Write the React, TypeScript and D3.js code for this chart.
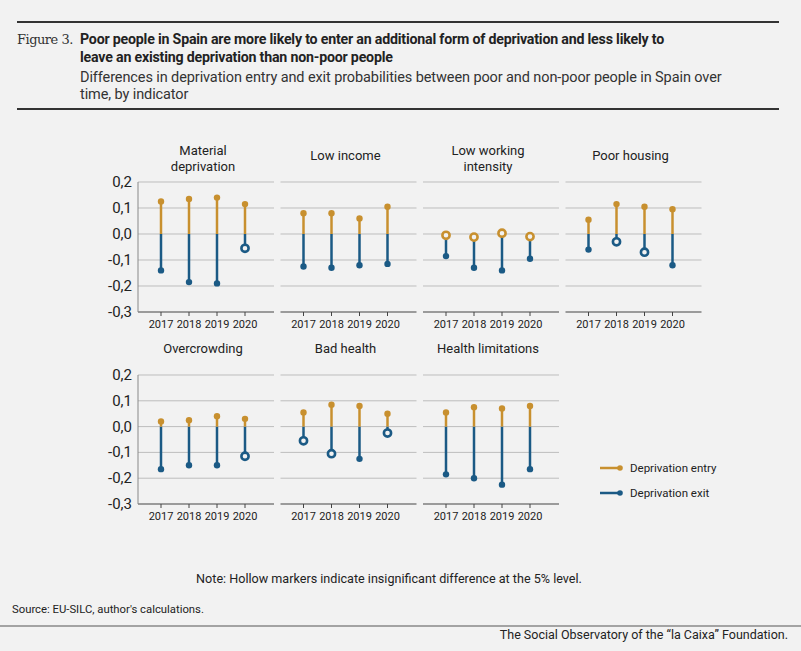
import React from "react";
import * as d3 from "d3";

const years = ["2017", "2018", "2019", "2020"];
const panelTitles = [
  ["Material", "deprivation"],
  ["Low income"],
  ["Low working", "intensity"],
  ["Poor housing"],
  ["Overcrowding"],
  ["Bad health"],
  ["Health limitations"],
];
const entryValues = [
  [0.125, 0.135, 0.14, 0.115],
  [0.08, 0.08, 0.06, 0.105],
  [-0.005, -0.012, 0.003, -0.01],
  [0.055, 0.115, 0.105, 0.095],
  [0.02, 0.025, 0.04, 0.03],
  [0.055, 0.085, 0.08, 0.05],
  [0.055, 0.075, 0.07, 0.08],
];
const exitValues = [
  [-0.14, -0.185, -0.19, -0.055],
  [-0.125, -0.13, -0.12, -0.115],
  [-0.085, -0.13, -0.14, -0.095],
  [-0.06, -0.03, -0.07, -0.12],
  [-0.165, -0.15, -0.15, -0.115],
  [-0.055, -0.105, -0.125, -0.025],
  [-0.185, -0.2, -0.225, -0.165],
];
const entryHollow = [
  [false, false, false, false],
  [false, false, false, false],
  [true, true, true, true],
  [false, false, false, false],
  [false, false, false, false],
  [false, false, false, false],
  [false, false, false, false],
];
const exitHollow = [
  [false, false, false, true],
  [false, false, false, false],
  [false, false, false, false],
  [false, true, true, false],
  [false, false, false, true],
  [true, true, false, true],
  [false, false, false, false],
];
const yTicks = [0.2, 0.1, 0, -0.1, -0.2, -0.3];

const ORANGE = "#c8902f";
const BLUE = "#1b5a85";
const FONT = "Roboto, 'Noto Sans', sans-serif";

const Panel = ({ idx, x0, yTop, yBot }: { idx: number; x0: number; yTop: number; yBot: number }) => {
  const w = 136;
  const y = d3.scaleLinear([-0.3, 0.2], [yBot, yTop]);
  const x = d3.scalePoint(years, [x0 + 23, x0 + 107]);
  const title = panelTitles[idx];
  const first = idx % 4 === 0;
  return (
    <g>
      {title.map((t, i) => (
        <text key={i} x={x0 + 65} y={yTop - (title.length === 2 ? 27 : 22) + i * 16}
          textAnchor="middle" fontSize={13} fill="#222">{t}</text>
      ))}
      {yTicks.slice(0, 5).map((t) => (
        <line key={t} x1={x0} x2={x0 + w} y1={y(t)} y2={y(t)} stroke="#bdbdbd" strokeWidth={1} />
      ))}
      <line x1={x0} x2={x0 + w} y1={yBot} y2={yBot} stroke="#444" strokeWidth={1.2} />
      {first && <line x1={x0} x2={x0} y1={yTop} y2={yBot} stroke="#888" strokeWidth={1} />}
      {first && yTicks.map((t) => (
        <text key={t} x={x0 - 6} y={y(t) + 5} textAnchor="end" fontSize={15} fill="#222">
          {d3.format(".1f")(t).replace(".", ",").replace("−", "-")}
        </text>
      ))}
      {years.map((yr, i) => (
        <g key={yr}>
          <line x1={x(yr)} x2={x(yr)} y1={yBot} y2={yBot + 4} stroke="#444" />
          <text x={x(yr)} y={yBot + 16} textAnchor="middle" fontSize={11} fill="#222">{yr}</text>
          <line x1={x(yr)} x2={x(yr)} y1={y(0)} y2={y(exitValues[idx][i])} stroke={BLUE} strokeWidth={2.5} />
          <line x1={x(yr)} x2={x(yr)} y1={y(0)} y2={y(entryValues[idx][i])} stroke={ORANGE} strokeWidth={2.5} />
          {exitHollow[idx][i]
            ? <circle cx={x(yr)} cy={y(exitValues[idx][i])} r={3.6} fill="#f2f2f2" stroke={BLUE} strokeWidth={2.6} />
            : <circle cx={x(yr)} cy={y(exitValues[idx][i])} r={3.2} fill={BLUE} />}
          {entryHollow[idx][i]
            ? <circle cx={x(yr)} cy={y(entryValues[idx][i])} r={3.6} fill="#f2f2f2" stroke={ORANGE} strokeWidth={2.6} />
            : <circle cx={x(yr)} cy={y(entryValues[idx][i])} r={3.2} fill={ORANGE} />}
        </g>
      ))}
    </g>
  );
};

export default function App() {
  const rows = [
    { yTop: 182, yBot: 312 },
    { yTop: 375, yBot: 504 },
  ];
  return (
    <svg width={801} height={651} style={{ position: "absolute", left: 0, top: 0, background: "#f2f2f2" }} fontFamily={FONT}>
      <rect width={801} height={651} fill="#f2f2f2" />
      <line x1={17} x2={779} y1={22} y2={22} stroke="#333" strokeWidth={2} />
      <text x={17} y={44} fontFamily="'DejaVu Serif', serif" fontSize={13} fill="#333" letterSpacing={-0.5}>Figure 3.</text>
      <text fontSize={14.2} fontWeight="bold" fill="#222" letterSpacing={-0.2}>
        <tspan x={80} y={44}>Poor people in Spain are more likely to enter an additional form of deprivation and less likely to</tspan>
        <tspan x={80} y={61.5}>leave an existing deprivation than non-poor people</tspan>
      </text>
      <text fontSize={14.5} fill="#333" letterSpacing={-0.1}>
        <tspan x={80} y={82}>Differences in deprivation entry and exit probabilities between poor and non-poor people in Spain over</tspan>
        <tspan x={80} y={99}>time, by indicator</tspan>
      </text>
      <line x1={17} x2={779} y1={109} y2={109} stroke="#333" strokeWidth={2} />
      {panelTitles.map((_, i) => (
        <Panel key={i} idx={i} x0={138 + (i % 4) * 142.5} yTop={rows[Math.floor(i / 4)].yTop} yBot={rows[Math.floor(i / 4)].yBot} />
      ))}
      {[{ c: ORANGE, t: "Deprivation entry", y: 468 }, { c: BLUE, t: "Deprivation exit", y: 493 }].map((l) => (
        <g key={l.t}>
          <line x1={600} x2={620} y1={l.y} y2={l.y} stroke={l.c} strokeWidth={2.5} />
          <circle cx={620} cy={l.y} r={2.8} fill={l.c} />
          <text x={630} y={l.y + 4} fontSize={11.5} fill="#222">{l.t}</text>
        </g>
      ))}
      <text x={389} y={583} textAnchor="middle" fontSize={12.6} fill="#222">Note: Hollow markers indicate insignificant difference at the 5% level.</text>
      <text x={12} y={613} fontSize={11.3} fill="#222">Source: EU-SILC, author's calculations.</text>
      <line x1={0} x2={801} y1={626} y2={626} stroke="#555" strokeWidth={1} />
      <text x={788} y={639} textAnchor="end" fontSize={12.5} fill="#222">The Social Observatory of the “la Caixa” Foundation.</text>
    </svg>
  );
}
